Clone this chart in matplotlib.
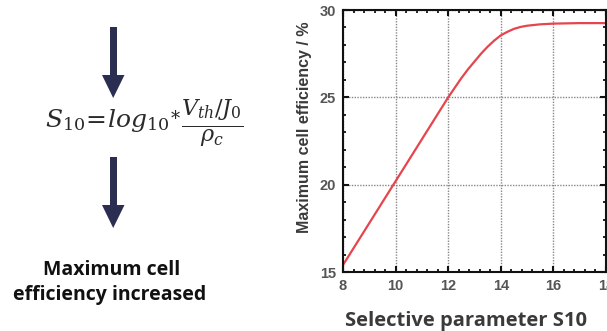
import matplotlib
matplotlib.use("Agg")
import matplotlib.pyplot as plt
from matplotlib.patches import Polygon, Rectangle
from matplotlib.ticker import MultipleLocator

# Data
s10 = [8.0, 8.5, 9.0, 9.5, 10.0, 10.5, 11.0, 11.5, 12.0, 12.25, 12.5, 12.75, 13.0,
       13.25, 13.5, 13.75, 14.0, 14.25, 14.5, 14.75, 15.0, 15.5, 16.0, 17.0, 18.0]
eff = [15.4, 16.6, 17.8, 19.0, 20.2, 21.4, 22.6, 23.8, 25.0, 25.55, 26.1, 26.6, 27.05,
       27.5, 27.9, 28.25, 28.55, 28.75, 28.92, 29.03, 29.1, 29.18, 29.22, 29.25, 29.25]
x_ticks = [8, 10, 12, 14, 16, 18]
y_ticks = [15, 20, 25, 30]

W, H = 607, 331
fig = plt.figure(figsize=(W / 100, H / 100), dpi=100)

# Overlay for left-side annotations (pixel coordinates)
ov = fig.add_axes([0, 0, 1, 1])
ov.set_xlim(0, W)
ov.set_ylim(H, 0)
ov.axis("off")
arrow_c = "#2b2e50"
for top, hs, tip in [(27, 75, 98), (157, 205, 228)]:
    ov.add_patch(Rectangle((109.5, top), 7, hs - top + 1, color=arrow_c, lw=0))
    ov.add_patch(Polygon([(102, hs), (124.5, hs), (113.2, tip)], closed=True,
                         color=arrow_c, lw=0))

plt.rcParams["mathtext.fontset"] = "dejavuserif"
ov.text(45, 127, r"$S_{10}\!=\!log_{10}$", ha="left", va="baseline",
        fontsize=18, color="#2a2a2a")
ov.text(175, 117, r"$*$", ha="center", va="center", fontsize=13, color="#2a2a2a")
ov.text(212, 123, r"$\frac{V_{th}/J_0}{\rho_c}$", ha="center", va="center",
        fontsize=23, color="#2a2a2a")
ov.text(112, 270, "Maximum cell", ha="center", va="center", fontsize=14,
        fontweight="bold", family="Open Sans", color="#111111")
ov.text(110, 295, "efficiency increased", ha="center", va="center", fontsize=14,
        fontweight="bold", family="Open Sans", color="#111111")

# Main chart
ax = fig.add_axes([343 / W, 1 - 272 / H, (606 - 343) / W, (272 - 10) / H])
ax.plot(s10, eff, color="#e5454d", lw=1.6)
ax.set_xlim(8, 18)
ax.set_ylim(15, 30)
ax.set_xticks(x_ticks)
ax.set_yticks(y_ticks)
ax.xaxis.set_minor_locator(MultipleLocator(0.4))
ax.yaxis.set_minor_locator(MultipleLocator(1))
ax.tick_params(which="both", direction="in", top=True, right=True, color="#111111")
ax.tick_params(which="major", length=4, width=1.5, labelsize=10.5,
               labelcolor="#555555", pad=5)
ax.tick_params(which="minor", length=2.5, width=1.3)
for lab in ax.get_xticklabels() + ax.get_yticklabels():
    lab.set_family("Liberation Sans")
    lab.set_fontweight("bold")
ax.grid(True, which="major", ls=(0, (1, 1)), color="#888888", lw=1.0)
for sp in ax.spines.values():
    sp.set_linewidth(1.5)
    sp.set_color("#111111")

fig.text(305 / W, 1 - 127 / H, "Maximum cell efficiency / %", rotation=90,
         ha="center", va="center", fontsize=11.5, fontweight="bold",
         family="Liberation Sans", color="#3a3a3a")
fig.text(466 / W, 1 - 321 / H, "Selective parameter S10", ha="center", va="center",
         fontsize=14.5, fontweight="bold", family="Open Sans", color="#3a3a3a")

fig.savefig("out.png", dpi=100)
